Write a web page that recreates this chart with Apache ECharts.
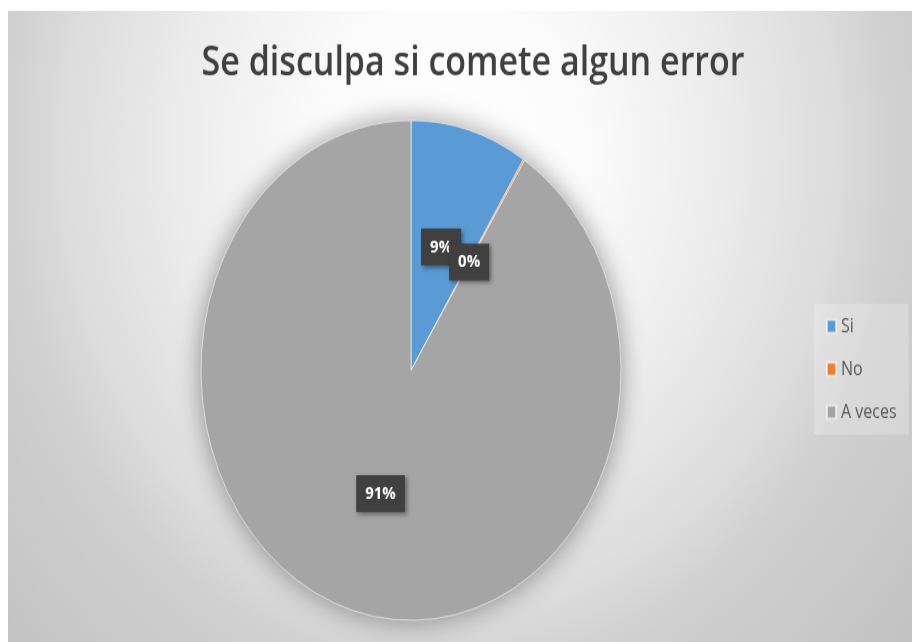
<!DOCTYPE html>
<html>
<head>
<meta charset="utf-8">
<script src="https://cdn.jsdelivr.net/npm/echarts@6/dist/echarts.min.js"></script>
<style>
  html, body { margin: 0; padding: 0; background: #fff; }
  body { width: 912px; height: 642px; overflow: hidden; position: relative; }
  /* the reference is an Excel chart stretched vertically, so the chart is drawn flat and scaled */
  #chart {
    position: absolute; left: 8px; top: 11px;
    width: 904px; height: 530px;
    transform: scaleY(1.19); transform-origin: 0 0;
  }
</style>
</head>
<body>
<div id="chart"></div>
<script>
const categories = ['Si', 'No', 'A veces'];
const values = [9, 0, 91];
const colors = ['#5b9bd5', '#ed7d31', '#a5a5a5'];
const titleText = 'Se disculpa si comete algun error';

const chart = echarts.init(document.getElementById('chart'));

const sliceData = categories.map((name, i) => ({
  name: name,
  value: values[i],
  itemStyle: { color: colors[i] }
}));

const total = values.reduce((a, b) => a + b, 0);

chart.setOption({
  backgroundColor: {
    type: 'radial',
    x: 442, y: 117, r: 620,
    global: true,
    colorStops: [
      { offset: 0, color: '#ffffff' },
      { offset: 0.2, color: '#fcfcfc' },
      { offset: 0.41, color: '#eeeeee' },
      { offset: 0.63, color: '#dcdcdc' },
      { offset: 0.72, color: '#d0d0d0' },
      { offset: 0.97, color: '#c4c4c4' },
      { offset: 1, color: '#c3c3c3' }
    ]
  },
  title: {
    text: titleText,
    left: 460,
    top: 22,
    textAlign: 'center',
    textStyle: {
      fontFamily: 'Open Sans',
      fontSize: 34,
      fontWeight: 600,
      color: '#404040'
    }
  },
  legend: {
    data: categories,
    orient: 'vertical',
    left: 806,
    top: 246,
    padding: [11, 12, 11, 12],
    backgroundColor: 'rgba(255,255,255,0.22)',
    itemWidth: 9,
    itemHeight: 11,
    itemGap: 20,
    icon: 'rect',
    selectedMode: false,
    textStyle: {
      fontFamily: 'Open Sans',
      fontSize: 16,
      lineHeight: 16,
      color: '#595959'
    }
  },
  series: [
    {
      // shadow disc under the slices
      type: 'pie',
      name: 'shadow',
      silent: true,
      center: [403, 302],
      radius: 210,
      label: { show: false },
      labelLine: { show: false },
      data: [{
        value: total,
        name: 'total',
        itemStyle: {
          color: '#a5a5a5',
          shadowBlur: 24,
          shadowColor: 'rgba(0,0,0,0.4)'
        }
      }]
    },
    {
      type: 'pie',
      name: titleText,
      center: [403, 302],
      radius: 210,
      startAngle: 90,
      clockwise: true,
      minAngle: 0.4,
      avoidLabelOverlap: false,
      minShowLabelAngle: 0,
      labelLayout: { hideOverlap: false },
      itemStyle: {
        borderColor: 'rgba(255,255,255,0.6)',
        borderWidth: 1
      },
      label: {
        show: true,
        position: 'inside',
        formatter: '{c}%',
        fontFamily: 'Open Sans',
        fontWeight: 'bold',
        fontSize: 15,
        color: '#ffffff',
        backgroundColor: '#404040',
        padding: [8, 9],
        shadowColor: 'rgba(0,0,0,0.4)',
        shadowBlur: 4,
        shadowOffsetX: 2,
        shadowOffsetY: 2
      },
      labelLine: { show: false },
      emphasis: { disabled: true },
      data: sliceData
    }
  ]
});
</script>
</body>
</html>
